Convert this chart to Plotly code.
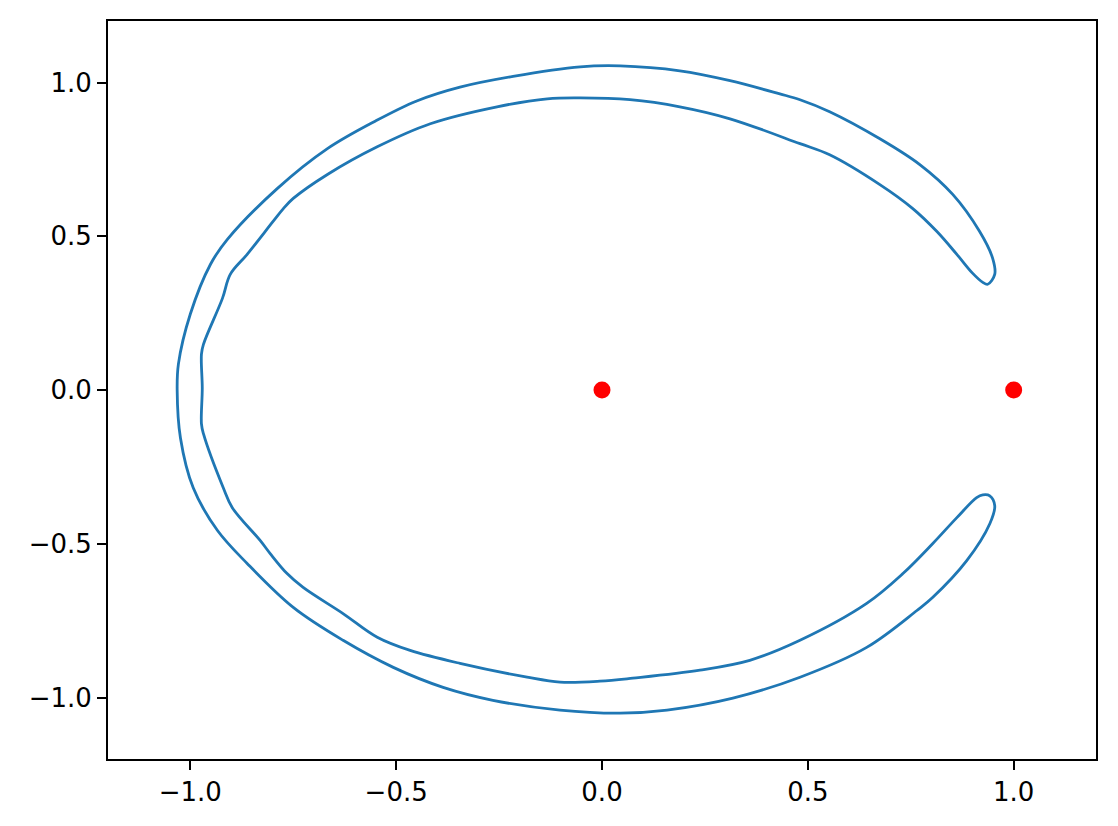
import plotly.graph_objects as go

# Orbit trace (closed loop): outer arc top -> left -> bottom, then inner arc back
orbit_x = [0.937, 0.954, 0.949, 0.917, 0.852, 0.772, 0.675, 0.553, 0.481, 0.432, 0.311, 0.189,
           0.044, -0.053, -0.216, -0.345, -0.450, -0.550, -0.667, -0.789, -0.910, -0.951, -1.000,
           -1.029, -1.032, -1.024, -0.993, -0.934, -0.862, -0.750, -0.629, -0.507, -0.386, -0.265,
           -0.102, 0.044, 0.158, 0.318, 0.481, 0.643, 0.765, 0.803, 0.886, 0.942, 0.954, 0.942, 0.925,
           0.910, 0.862, 0.803, 0.731, 0.643, 0.481, 0.359, 0.238, 0.075, -0.005, -0.102, -0.182,
           -0.345, -0.466, -0.546, -0.629, -0.726, -0.765, -0.806, -0.830, -0.898, -0.920, -0.968,
           -0.973, -0.971, -0.973, -0.968, -0.922, -0.903, -0.862, -0.799, -0.774, -0.750, -0.667,
           -0.546, -0.417, -0.255, -0.133, -0.053, 0.068, 0.189, 0.311, 0.481, 0.553, 0.675, 0.755,
           0.813, 0.862, 0.900, 0.925, 0.937]
orbit_y = [0.344, 0.376, 0.428, 0.516, 0.636, 0.733, 0.817, 0.905, 0.944, 0.963, 1.006, 1.038,
           1.054, 1.051, 1.020, 0.985, 0.940, 0.875, 0.785, 0.655, 0.490, 0.409, 0.247,
           0.084, 0.000, -0.156, -0.318, -0.457, -0.564, -0.707, -0.814, -0.902, -0.967, -1.009,
           -1.041, -1.051, -1.041, -1.002, -0.934, -0.837, -0.717, -0.675, -0.555, -0.435, -0.376,
           -0.344, -0.341,
           -0.350, -0.415, -0.500, -0.597, -0.694, -0.814, -0.879, -0.911, -0.937, -0.947,
           -0.950, -0.934, -0.889, -0.847, -0.804, -0.727, -0.642, -0.597, -0.532, -0.490, -0.383,
           -0.318, -0.143, -0.110, 0.006, 0.117, 0.149, 0.298, 0.376, 0.441, 0.548, 0.590, 0.623,
           0.701, 0.791, 0.866, 0.921, 0.947, 0.950, 0.944, 0.921, 0.882, 0.801, 0.765, 0.668, 0.590,
           0.516, 0.441, 0.380, 0.350, 0.344]

# Primary bodies
body_x = [0.0, 1.0]
body_y = [0.0, 0.0]

tick_vals = [-1.0, -0.5, 0.0, 0.5, 1.0]
tick_text = ["\u22121.0", "\u22120.5", "0.0", "0.5", "1.0"]

fig = go.Figure()
fig.add_trace(go.Scatter(x=orbit_x, y=orbit_y, mode="lines",
                         line=dict(color="#1f77b4", width=2.8, shape="spline", smoothing=1.0),
                         showlegend=False, hoverinfo="skip"))
fig.add_trace(go.Scatter(x=body_x, y=body_y, mode="markers",
                         marker=dict(color="#ff0000", size=17, line=dict(width=0)),
                         showlegend=False))

axis_common = dict(range=[-1.2, 1.2], showgrid=False, zeroline=False, showline=True,
                   linecolor="black", linewidth=2, mirror=True, ticks="outside",
                   ticklen=9, tickwidth=2, tickcolor="black",
                   tickvals=tick_vals, ticktext=tick_text,
                   tickfont=dict(family="DejaVu Sans", size=26, color="black"))

fig.update_layout(width=1118, height=826,
                  margin=dict(l=100, r=30, t=11, b=75),
                  paper_bgcolor="white", plot_bgcolor="white",
                  xaxis=axis_common, yaxis=axis_common)

fig.write_html("out.html")
